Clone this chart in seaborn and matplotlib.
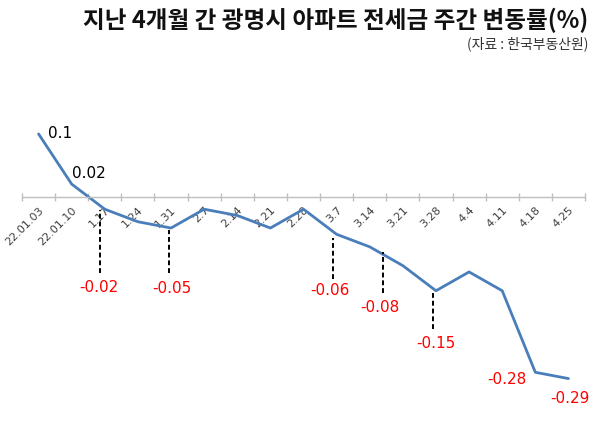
import matplotlib
matplotlib.use("Agg")
import matplotlib.pyplot as plt
import seaborn as sns
import pandas as pd
import numpy as np

# ---- data ----
weeks = ["22.01.03", "22.01.10", "1.17", "1.24", "1.31", "2.7", "2.14", "2.21",
         "2.28", "3.7", "3.14", "3.21", "3.28", "4.4", "4.11", "4.18", "4.25"]
changes = [0.10, 0.02, -0.02, -0.04, -0.05, -0.02, -0.03, -0.05,
           -0.02, -0.06, -0.08, -0.11, -0.15, -0.12, -0.15, -0.28, -0.29]
labeled_weeks = ["22.01.03", "22.01.10", "1.17", "1.31", "3.7", "3.14", "3.28", "4.18", "4.25"]
title = "지난 4개월 간 광명시 아파트 전세금 주간 변동률(%)"
source = "(자료 : 한국부동산원)"

sns.set_theme(style="white")
plt.rcParams['font.family'] = ['Noto Sans CJK KR', 'DejaVu Sans']

df = pd.DataFrame({"idx": np.arange(len(weeks)), "week": weeks, "change": changes})

fig = plt.figure(figsize=(6.0, 4.46), dpi=100)
ax = fig.add_axes([0.0367, 0.0668, 0.9383, 0.7032])

sns.lineplot(data=df, x="idx", y="change", ax=ax, color="#4A7EBB", linewidth=2.0)

ax.set_xlim(-0.5, len(weeks) - 0.5)
ax.set_ylim(-0.35, 0.15)

# axis styling (Excel-like category axis at zero)
for s in ["left", "top", "right"]:
    ax.spines[s].set_visible(False)
ax.spines["bottom"].set_position(("data", 0))
ax.spines["bottom"].set_color("#BFBFBF")
ax.spines["bottom"].set_linewidth(1.0)
ax.set_yticks([])
ax.set_ylabel("")
ax.set_xlabel("")

ax.set_xticks(np.arange(-0.5, len(weeks)), minor=False)
ax.set_xticklabels([])
ax.set_xticks(np.arange(len(weeks)), minor=True)
ax.set_xticklabels(weeks, minor=True, rotation=45, ha="right", va="top",
                   rotation_mode="anchor", fontsize=8, color="#404040",
                   family=["DejaVu Sans"])
ax.tick_params(axis="x", which="major", direction="inout", length=6, width=1.0,
               color="#BFBFBF", bottom=True)
ax.tick_params(axis="x", which="minor", length=0, pad=6)

# annotations: label offsets in points, dashed leaders in data units
label_style = {
    "22.01.03": dict(off=(7, 0), ha="left", color="black"),
    "22.01.10": dict(off=(0, 8), ha="left", color="black"),
    "1.17": dict(off=(-4.2, -56.7), ha="center", color="red"),
    "1.31": dict(off=(0.7, -43.2), ha="center", color="red"),
    "3.7": dict(off=(-4.8, -40.8), ha="center", color="red"),
    "3.14": dict(off=(7.3, -43.8), ha="center", color="red"),
    "3.28": dict(off=(0, -37.8), ha="center", color="red"),
    "4.18": dict(off=(-20.7, -5), ha="center", color="red"),
    "4.25": dict(off=(1.1, -14.3), ha="center", color="red"),
}
leaders = {
    "1.17": (-0.145, 0.0015, 0.102),
    "1.31": (-0.05, 0.003, 0.071),
    "3.7": (-0.10, 0.006, 0.071),
    "3.14": (0.39, 0.009, 0.074),
    "3.28": (-0.10, 0.001, 0.061),
}

for w in labeled_weeks:
    i = weeks.index(w)
    v = changes[i]
    st = label_style[w]
    txt = f"{v:g}"
    ax.annotate(txt, xy=(i, v), xytext=st["off"], textcoords="offset points",
                ha=st["ha"], va="center", fontsize=11, color=st["color"],
                family=["DejaVu Sans"])
    if w in leaders:
        dx, gap, length = leaders[w]
        ax.vlines(i + dx, v - length, v - gap, colors="black",
                  linestyles=(0, (2.5, 1.5)), linewidth=1.4)

fig.text(0.98, 0.955, title, ha="right", va="center", fontsize=17,
         fontweight="black", color="#111111")
fig.text(0.98, 0.901, source, ha="right", va="center", fontsize=10,
         color="#333333")

fig.savefig("out.png", dpi=100)
